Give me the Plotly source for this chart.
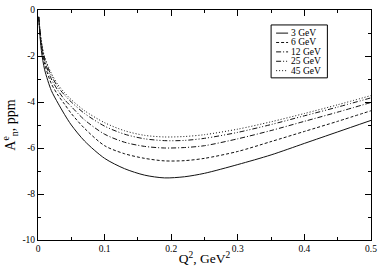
import plotly.graph_objects as go

q2 = [0.001, 0.005, 0.01, 0.02, 0.03, 0.04, 0.05, 0.07, 0.10, 0.13, 0.16, 0.19,
      0.22, 0.25, 0.30, 0.35, 0.40, 0.45, 0.50]

a_3gev = [-0.3, -1.75, -2.6, -3.5, -4.05, -4.55, -5.0, -5.7, -6.45, -6.9, -7.18, -7.3,
          -7.25, -7.1, -6.72, -6.3, -5.8, -5.3, -4.8]
a_6gev = [-0.3, -1.6, -2.35, -3.2, -3.7, -4.1, -4.5, -5.15, -5.9, -6.25, -6.45, -6.56,
          -6.55, -6.45, -6.15, -5.72, -5.28, -4.84, -4.38]
a_12gev = [-0.3, -1.45, -2.2, -3.0, -3.5, -3.9, -4.2, -4.78, -5.4, -5.75, -5.93, -6.0,
           -5.98, -5.9, -5.6, -5.24, -4.84, -4.44, -4.02]
a_25gev = [-0.3, -1.4, -2.1, -2.85, -3.35, -3.7, -4.0, -4.5, -5.05, -5.4, -5.6, -5.68,
           -5.67, -5.58, -5.32, -4.98, -4.6, -4.22, -3.82]
a_45gev = [-0.3, -1.35, -2.05, -2.75, -3.25, -3.6, -3.9, -4.38, -4.9, -5.25, -5.45, -5.52,
           -5.5, -5.42, -5.18, -4.86, -4.5, -4.12, -3.72]

series_names = ["3 GeV", "6 GeV", "12 GeV", "25 GeV", "45 GeV"]
series_values = [a_3gev, a_6gev, a_12gev, a_25gev, a_45gev]
dash_styles = ["solid", "3px,2px", "5px,2px,1px,2px", "5px,2px,1px,2px,1px,2px", "1px,2px"]

x_tick_vals = [0, 0.1, 0.2, 0.3, 0.4, 0.5]
x_tick_text = ["0", "0.1", "0.2", "0.3", "0.4", "0.5"]
y_tick_vals = [0, -2, -4, -6, -8, -10]
y_tick_text = ["0", "-2", "-4", "-6", "-8", "-10"]

FONT = "Liberation Serif, DejaVu Serif, serif"
LINE_COLOR = "#111111"

fig = go.Figure()
for name, vals, dash in zip(series_names, series_values, dash_styles):
    fig.add_trace(go.Scatter(
        x=q2, y=vals, mode="lines", name=name, showlegend=False,
        line=dict(color=LINE_COLOR, width=1, dash=dash, shape="spline", smoothing=0.8),
    ))

# Hand-built compact legend (paper coordinates)
leg_x0, leg_x1 = 0.700, 0.869
leg_y0, leg_y1 = 0.705, 0.935
row_top = 0.8995
row_step = 0.0408
fig.add_shape(type="rect", xref="paper", yref="paper",
              x0=leg_x0, x1=leg_x1, y0=leg_y0, y1=leg_y1,
              line=dict(color="black", width=1), fillcolor="white", layer="above")
for i, (name, dash) in enumerate(zip(series_names, dash_styles)):
    yy = row_top - i * row_step
    fig.add_shape(type="line", xref="paper", yref="paper",
                  x0=0.715, x1=0.751, y0=yy, y1=yy,
                  line=dict(color=LINE_COLOR, width=1, dash=dash), layer="above")
    fig.add_annotation(xref="paper", yref="paper", x=0.756, y=yy,
                       xanchor="left", yanchor="middle", text=name, showarrow=False,
                       borderpad=0, font=dict(family=FONT, size=9.5, color="black"))

axis_common = dict(
    showgrid=False, zeroline=False, showline=True, linecolor="black", linewidth=1,
    mirror="ticks", ticks="inside", ticklen=6, tickcolor="black", tickwidth=1,
    tickfont=dict(family=FONT, size=9.5, color="black"),
)

fig.update_layout(
    width=382, height=272,
    margin=dict(l=38, r=7, t=5, b=32),
    paper_bgcolor="white", plot_bgcolor="white",
    font=dict(family=FONT, color="black"),
    showlegend=False,
    xaxis=dict(
        range=[0, 0.5], tickvals=x_tick_vals, ticktext=x_tick_text,
        minor=dict(dtick=0.05, tick0=0, ticks="inside", ticklen=3, tickcolor="black"),
        title=dict(text="Q<sup>2</sup>, GeV<sup>2</sup>", font=dict(family=FONT, size=13.5), standoff=0),
        **axis_common,
    ),
    yaxis=dict(
        range=[-10, 0], tickvals=y_tick_vals, ticktext=y_tick_text,
        minor=dict(dtick=1, tick0=0, ticks="inside", ticklen=3, tickcolor="black"),
        title=dict(text="A<sup>e</sup><sub>n</sub>, ppm", font=dict(family=FONT, size=14), standoff=4),
        **axis_common,
    ),
)

fig.write_html("out.html", config={"displayModeBar": False},
               post_script="document.body.style.margin='0';")
